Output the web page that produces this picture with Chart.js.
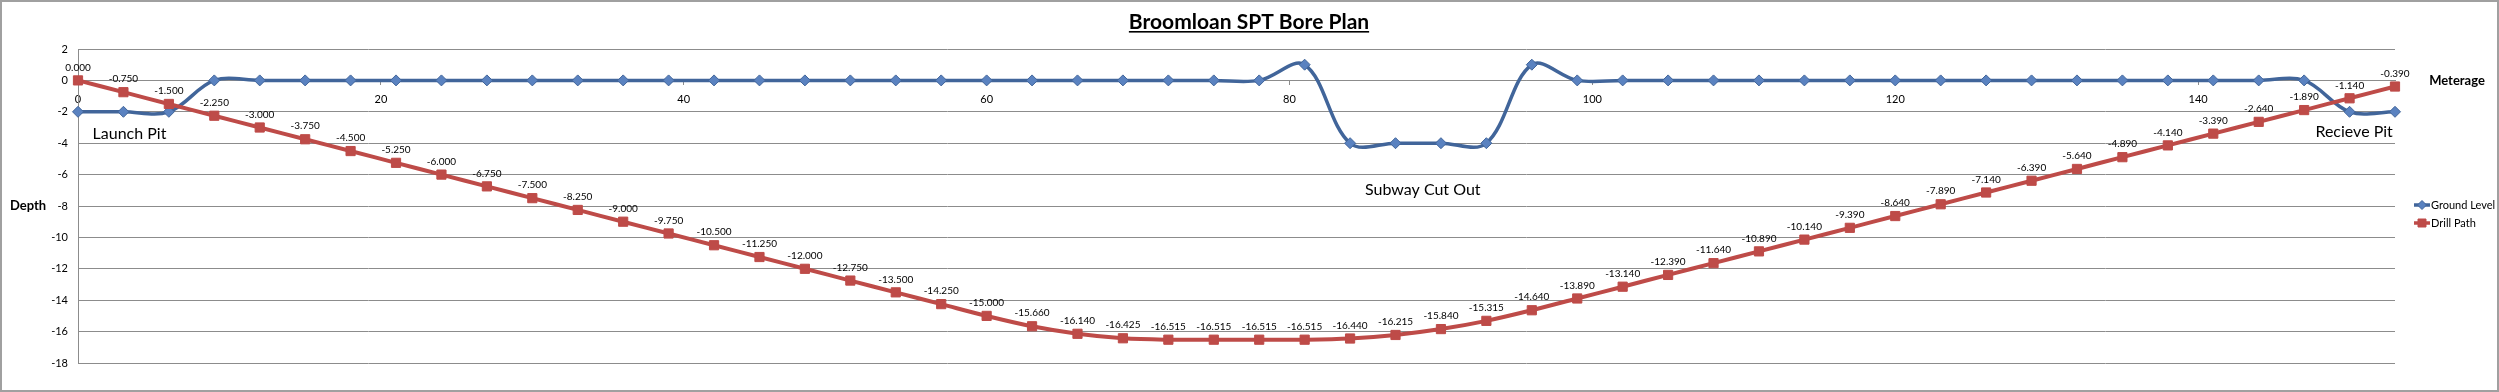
<!DOCTYPE html>
<html>
<head>
<meta charset="utf-8">
<title>Broomloan SPT Bore Plan</title>
<script src="https://cdn.jsdelivr.net/npm/chart.js@4.4.0/dist/chart.umd.min.js"></script>
<style>
  html, body { margin: 0; padding: 0; background: #fff; }
  #wrap { width: 2499px; height: 392px; }
</style>
</head>
<body>
<div id="wrap"><canvas id="borePlan" width="2499" height="392"></canvas></div>
<script>
// metres along the bore, one reading every 3 m
const meterage = [0, 3, 6, 9, 12, 15, 18, 21, 24, 27, 30, 33, 36, 39, 42, 45, 48, 51,
  54, 57, 60, 63, 66, 69, 72, 75, 78, 81, 84, 87, 90, 93, 96, 99, 102, 105, 108,
  111, 114, 117, 120, 123, 126, 129, 132, 135, 138, 141, 144, 147, 150, 153];

const groundLevel = [-2, -2, -2, 0, 0, 0, 0, 0, 0, 0, 0, 0, 0, 0, 0, 0, 0, 0,
  0, 0, 0, 0, 0, 0, 0, 0, 0, 1, -4, -4, -4, -4, 1, 0, 0, 0, 0,
  0, 0, 0, 0, 0, 0, 0, 0, 0, 0, 0, 0, 0, -2, -2];

const drillPath = [0.000, -0.750, -1.500, -2.250, -3.000, -3.750, -4.500, -5.250,
  -6.000, -6.750, -7.500, -8.250, -9.000, -9.750, -10.500, -11.250, -12.000,
  -12.750, -13.500, -14.250, -15.000, -15.660, -16.140, -16.425, -16.515,
  -16.515, -16.515, -16.515, -16.440, -16.215, -15.840, -15.315, -14.640,
  -13.890, -13.140, -12.390, -11.640, -10.890, -10.140, -9.390, -8.640,
  -7.890, -7.140, -6.390, -5.640, -4.890, -4.140, -3.390, -2.640, -1.890,
  -1.140, -0.390];

const xTickValues = [0, 20, 40, 60, 80, 100, 120, 140];
const yTickValues = [2, 0, -2, -4, -6, -8, -10, -12, -14, -16, -18];

// text notes placed in data space (metres, depth)
const notes = [
  { text: 'Launch Pit', x: 3.4, y: -3.4 },
  { text: 'Subway Cut Out', x: 88.8, y: -7.0 },
  { text: 'Recieve Pit', x: 150.3, y: -3.3 }
];

const BLUE_LINE = '#41659a';
const BLUE_MARK = '#5a82c0';
const RED = '#be4b48';
const GRID = '#8c8c8c';
const FONT = 'Lato, "Open Sans", sans-serif';

function drawMarker(ctx, style, x, y, r, fill, stroke) {
  ctx.beginPath();
  if (style === 'diamond') {
    ctx.moveTo(x, y - r); ctx.lineTo(x + r, y); ctx.lineTo(x, y + r); ctx.lineTo(x - r, y);
    ctx.closePath();
  } else {
    ctx.rect(x - r, y - r, r * 2, r * 2);
  }
  ctx.fillStyle = fill; ctx.fill();
  ctx.lineWidth = 1; ctx.strokeStyle = stroke; ctx.stroke();
}

const decorations = {
  id: 'decorations',
  afterDatasetsDraw(chart) {
    const ctx = chart.ctx;
    const sx = chart.scales.x, sy = chart.scales.y;
    ctx.save();

    // value labels above drill path
    const meta = chart.getDatasetMeta(0);
    ctx.font = '10px ' + FONT;
    ctx.fillStyle = '#000';
    ctx.textAlign = 'center';
    ctx.textBaseline = 'middle';
    meta.data.forEach((pt, i) => {
      ctx.fillText(drillPath[i].toFixed(3), pt.x, pt.y - 13);
    });

    // notes
    ctx.font = '16px ' + FONT;
    notes.forEach(n => ctx.fillText(n.text, sx.getPixelForValue(n.x), sy.getPixelForValue(n.y)));

    // axis titles
    ctx.font = 'bold 13px ' + FONT;
    ctx.fillText('Depth', 28, 206);
    ctx.fillText('Meterage', 2457, sy.getPixelForValue(0));

    // title, underlined
    ctx.font = 'bold 21px ' + FONT;
    ctx.textBaseline = 'alphabetic';
    const title = 'Broomloan SPT Bore Plan';
    const tw = ctx.measureText(title).width;
    const cx = 1249;
    ctx.fillText(title, cx, 29);
    ctx.fillRect(cx - tw / 2, 31, tw, 1.6);

    // legend
    ctx.font = '11px ' + FONT;
    ctx.textAlign = 'left';
    ctx.textBaseline = 'middle';
    const items = [
      { label: 'Ground Level', y: 205, line: BLUE_LINE, style: 'diamond', fill: BLUE_MARK, r: 4.5 },
      { label: 'Drill Path', y: 223, line: RED, style: 'square', fill: RED, r: 4 }
    ];
    items.forEach(it => {
      ctx.strokeStyle = it.line; ctx.lineWidth = 3.5;
      ctx.beginPath(); ctx.moveTo(2414, it.y); ctx.lineTo(2430, it.y); ctx.stroke();
      drawMarker(ctx, it.style, 2422, it.y, it.r, it.fill, it.line);
      ctx.fillStyle = '#000';
      ctx.fillText(it.label, 2431, it.y);
    });

    // chart border
    ctx.strokeStyle = '#a0a0a0'; ctx.lineWidth = 2;
    ctx.strokeRect(1, 1, chart.width - 2, chart.height - 2);
    ctx.restore();
  }
};

new Chart(document.getElementById('borePlan'), {
  type: 'line',
  data: {
    datasets: [
      {
        label: 'Drill Path',
        data: meterage.map((m, i) => ({ x: m, y: drillPath[i] })),
        borderColor: RED,
        backgroundColor: RED,
        borderWidth: 4,
        pointStyle: 'rect',
        pointRadius: 6.5,
        pointBorderColor: RED,
        pointBackgroundColor: RED,
        pointBorderWidth: 1,
        tension: 0.35,
        clip: false,
        order: 0
      },
      {
        label: 'Ground Level',
        data: meterage.map((m, i) => ({ x: m, y: groundLevel[i] })),
        borderColor: BLUE_LINE,
        backgroundColor: BLUE_MARK,
        borderWidth: 3.5,
        pointStyle: 'rectRot',
        pointRadius: 5.5,
        pointBorderColor: BLUE_LINE,
        pointBackgroundColor: BLUE_MARK,
        pointBorderWidth: 1,
        tension: 0.35,
        clip: false,
        order: 1
      }
    ]
  },
  options: {
    responsive: false,
    animation: false,
    devicePixelRatio: 1,
    layout: { padding: { left: 0, right: 104, top: 49, bottom: 29 } },
    plugins: {
      legend: { display: false },
      tooltip: { enabled: false },
      title: { display: false }
    },
    scales: {
      x: {
        type: 'linear',
        position: { y: 0 },
        min: 0,
        max: 153,
        afterBuildTicks: s => { s.ticks = xTickValues.map(v => ({ value: v })); },
        afterFit: s => { s.height = 0; },
        grid: { drawOnChartArea: false, drawTicks: true, tickLength: 4, color: GRID },
        border: { display: true, color: GRID },
        ticks: { padding: 8, color: '#000', font: { family: FONT, size: 11 }, maxRotation: 0 }
      },
      y: {
        min: -18,
        max: 2,
        afterBuildTicks: s => { s.ticks = yTickValues.map(v => ({ value: v })); },
        afterFit: s => { s.width = 78; },
        grid: { color: GRID, drawTicks: false },
        border: { display: true, color: GRID },
        ticks: { padding: 10, color: '#000', font: { family: FONT, size: 11 } }
      }
    }
  },
  plugins: [decorations]
});
</script>
</body>
</html>
